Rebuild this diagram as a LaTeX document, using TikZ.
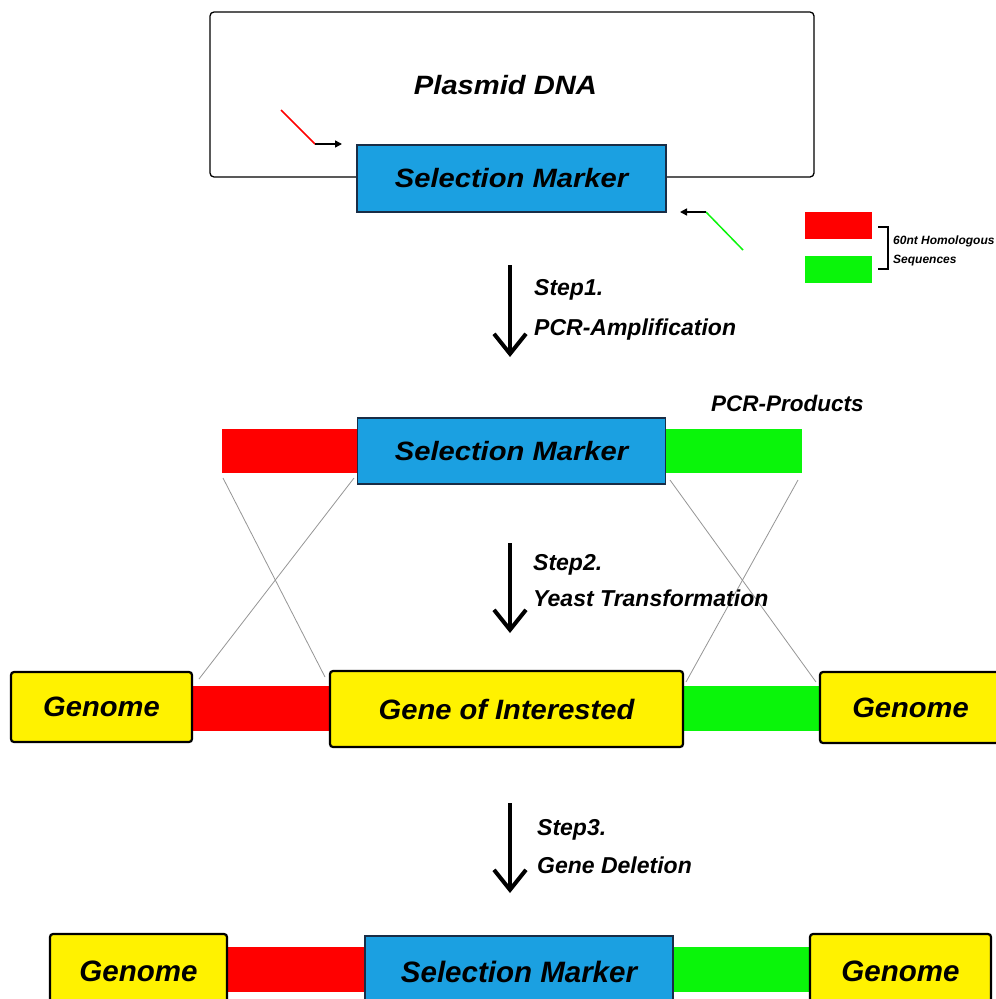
\documentclass[tikz,border=0pt]{standalone}
\usepackage{fontspec}
\usepackage{graphicx}
\setmainfont{Liberation Sans}
\usetikzlibrary{arrows.meta}
\definecolor{mblue}{RGB}{27,160,225}
\definecolor{mborder}{RGB}{25,45,70}
\definecolor{myellow}{RGB}{255,242,0}
\definecolor{mred}{RGB}{255,0,0}
\definecolor{mgreen}{RGB}{10,245,10}
\definecolor{mgray}{RGB}{150,150,150}
\newcommand\bxt[3]{\scalebox{#2}[1]{\fontsize{#1}{#1}\selectfont\bfseries\itshape #3}}
\begin{document}
\begin{tikzpicture}[x=1pt,y=-1pt,
  plasmidbox/.style={draw=black, line width=1.3pt, rounded corners=4pt, inner sep=0pt},
  markerbox/.style={draw=mborder, fill=mblue, line width=1.5pt, inner sep=0pt},
  genomebox/.style={draw=black, fill=myellow, line width=2.2pt, rounded corners=3pt, inner sep=0pt},
  redbar/.style={fill=mred, draw=none, inner sep=0pt},
  greenbar/.style={fill=mgreen, draw=none, inner sep=0pt},
  crossline/.style={draw=mgray, line width=0.8pt},
  steparrow/.style={line width=4pt, -{Straight Barb[length=20pt,width=32pt]}},
  primerarrow/.style={line width=1.5pt, -{Triangle[length=7pt,width=7pt]}},
  steptext/.style={anchor=base west, inner sep=0pt, font=\fontsize{23}{23}\selectfont\bfseries\itshape},
  legtext/.style={anchor=base west, inner sep=0pt, font=\fontsize{12}{12}\selectfont\bfseries\itshape},
  plain/.style={inner sep=0pt}
]
\useasboundingbox (0,0) rectangle (996,999);
\clip (0,0) rectangle (996,999);
\fill[white] (0,0) rectangle (996,999);

% ---------- Row 1: plasmid ----------
\node[plasmidbox, minimum width=604pt, minimum height=165pt] (pl) at (512,94.5) {};
\node[plain] (pdna) at (505.5,85.5) {\bxt{26.5}{1.1}{Plasmid DNA}};
\node[markerbox, minimum width=309pt, minimum height=67pt] (sm1) at (511.5,178.5) {\bxt{26.5}{1.1}{Selection Marker}};

% primers
\coordinate (p1a) at (281,110);
\coordinate (p1b) at (315,144);
\coordinate (p1c) at (342,144);
\draw[mred, line width=1.5pt] (p1a) -- (p1b);
\draw[primerarrow] (p1b) -- (p1c);
\coordinate (p2a) at (743,250);
\coordinate (p2b) at (706,212);
\coordinate (p2c) at (680,212);
\draw[mgreen, line width=1.5pt] (p2a) -- (p2b);
\draw[primerarrow] (p2b) -- (p2c);

% legend
\node[redbar, minimum width=67pt, minimum height=27pt] (lr) at (838.5,225.5) {};
\node[greenbar, minimum width=67pt, minimum height=27pt] (lg) at (838.5,269.5) {};
\draw[line width=2.2pt] (878,227) -- (888,227) -- (888,269) -- (878,269);
\node[legtext] (lt1) at (893,244) {60nt Homologous};
\node[legtext] (lt2) at (893,263) {Sequences};

% ---------- Step 1 ----------
\coordinate (s1a) at (510,265);
\coordinate (s1b) at (510,357);
\draw[steparrow] (s1a) -- (s1b);
\node[steptext] (st1a) at (534,295) {Step1.};
\node[steptext] (st1b) at (534,335) {PCR-Amplification};

% ---------- Row 2: PCR products ----------
\node[redbar, minimum width=136pt, minimum height=44pt] (r2) at (290,451) {};
\node[greenbar, minimum width=137pt, minimum height=44pt] (g2) at (733.5,451) {};
\node[markerbox, minimum width=308pt, minimum height=66pt] (sm2) at (511.5,451) {\bxt{26.5}{1.1}{Selection Marker}};
\node[anchor=base west, inner sep=0pt] (pcrp) at (711,411) {\bxt{22.5}{1}{PCR-Products}};

% crossing lines
\coordinate (c1a) at (223,478);
\coordinate (c1b) at (325,677);
\coordinate (c2a) at (354,478);
\coordinate (c2b) at (199,679);
\coordinate (c3a) at (670,480);
\coordinate (c3b) at (816,682);
\coordinate (c4a) at (798,480);
\coordinate (c4b) at (686,682);
\draw[crossline] (c1a) -- (c1b);
\draw[crossline] (c2a) -- (c2b);
\draw[crossline] (c3a) -- (c3b);
\draw[crossline] (c4a) -- (c4b);

% ---------- Step 2 ----------
\coordinate (s2a) at (510,543);
\coordinate (s2b) at (510,633);
\draw[steparrow] (s2a) -- (s2b);
\node[steptext] (st2a) at (533,570) {Step2.};
\node[steptext] (st2b) at (533,606) {Yeast Transformation};

% ---------- Row 3: genome ----------
\node[redbar, minimum width=140pt, minimum height=45pt] (r3) at (261,708) {};
\node[greenbar, minimum width=140pt, minimum height=45pt] (g3) at (751,708) {};
\node[genomebox, minimum width=181pt, minimum height=70pt] (gl3) at (101.5,707) {\bxt{28}{1.04}{Genome}};
\node[genomebox, minimum width=353pt, minimum height=76pt] (goi) at (506.5,709) {\bxt{28}{1.04}{Gene of Interested}};
\node[genomebox, minimum width=181pt, minimum height=71pt] (gr3) at (910.5,707.5) {\bxt{28}{1.04}{Genome}};

% ---------- Step 3 ----------
\coordinate (s3a) at (510,803);
\coordinate (s3b) at (510,893);
\draw[steparrow] (s3a) -- (s3b);
\node[steptext] (st3a) at (537,835) {Step3.};
\node[steptext] (st3b) at (537,873) {Gene Deletion};

% ---------- Row 4: result ----------
\node[redbar, minimum width=142pt, minimum height=45pt] (r4) at (296,969.5) {};
\node[greenbar, minimum width=141pt, minimum height=45pt] (g4) at (741.5,969.5) {};
\node[genomebox, minimum width=177pt, minimum height=74pt] (gl4) at (138.5,971) {\bxt{29.5}{1}{Genome}};
\node[markerbox, minimum width=308pt, minimum height=72pt] (sm4) at (519,972) {\bxt{29.5}{1}{Selection Marker}};
\node[genomebox, minimum width=181pt, minimum height=74pt] (gr4) at (900.5,971) {\bxt{29.5}{1}{Genome}};
\end{tikzpicture}
\end{document}
